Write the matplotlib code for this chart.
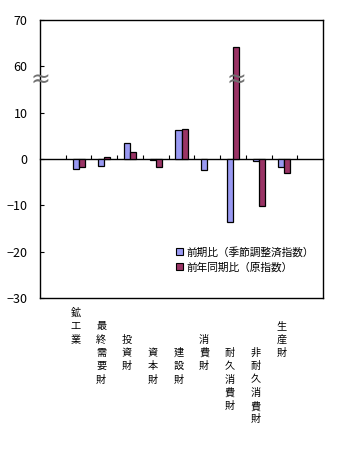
import numpy as np
import matplotlib
matplotlib.use("Agg")
import matplotlib.pyplot as plt
from matplotlib.patches import Patch

plt.rcParams['font.family'] = ['Noto Sans CJK JP', 'DejaVu Sans']

# data (percent)
categories = ['鉱工業', '最終需要財', '投資財', '資本財', '建設財',
              '消費財', '耐久消費財', '非耐久消費財', '生産財']
qoq = [-2.2, -1.5, 3.4, -0.2, 6.2, -2.4, -13.6, -0.5, -1.7]
yoy = [-1.7, 0.4, 1.5, -1.7, 6.4, np.nan, 64.2, -10.2, -3.1]
series_names = ['前期比（季節調整済指数）', '前年同期比（原指数）']
tick_values = [-30, -20, -10, 0, 10, 60, 70]

# layout only: row at which each vertical label starts
label_rows = [0, 1, 2, 3, 3, 2, 3, 3, 1]

BLUE = '#9999f2'
RED = '#9a3465'
GAP = 40  # values above the break are shifted down by this much


def squash(v):
    v = np.asarray(v, dtype=float)
    return np.where(v > 10, v - GAP, v)


fig = plt.figure(figsize=(3.4, 4.5), dpi=100)
ax = fig.add_axes([40 / 340, 152 / 450, 283 / 340, 278 / 450])

n = len(categories)
x = np.arange(1, n + 1)
w = 0.235
ax.bar(x - w / 2, squash(qoq), w, color=BLUE, edgecolor='black', linewidth=0.9)
ax.bar(x + w / 2, squash(yoy), w, color=RED, edgecolor='black', linewidth=0.9)

# one empty slot on each side of the categories
ax.set_xlim(-0.5, n + 1.5)
ax.set_ylim(-30, 30)
ax.set_yticks(squash(tick_values))
ax.set_yticklabels([str(t).replace('-', '−') for t in tick_values])
ax.tick_params(axis='y', direction='in', length=3, pad=9, labelsize=9, width=0.8)
ax.set_xticks([])
for s in ax.spines.values():
    s.set_linewidth(1.0)

# category axis at zero with small upward ticks between categories
sec = ax.secondary_xaxis(0.5)
sec.set_xticks(np.arange(0.5, n + 1, 1.0))
sec.tick_params(direction='out', length=3, labeltop=False, labelbottom=False, width=0.8)
for s in sec.spines.values():
    s.set_linewidth(1.0)

# break marks on the axis and the tall bar
brk = 17
ax.text(-0.5, brk, '≈', fontsize=17, color='#707070', ha='center', va='center',
        clip_on=False, family='DejaVu Sans')
big = int(np.nanargmax(yoy))
ax.text(x[big] + w / 2, brk, '≈', fontsize=17, color='#707070', ha='center',
        va='center', family='DejaVu Sans')

# vertical category labels, one character per line
for i, (lab, row) in enumerate(zip(categories, label_rows)):
    xd = ax.transData.transform((x[i] - 0.12, 0))[0] / 340
    for j, ch in enumerate(lab):
        ypx = 313 + 13.3 * (row + j)
        fig.text(xd, 1 - ypx / 450, ch, fontsize=7.3, ha='center', va='center')

handles = [Patch(facecolor=BLUE, edgecolor='black', linewidth=0.8),
           Patch(facecolor=RED, edgecolor='black', linewidth=0.8)]
ax.legend(handles, series_names, loc='upper left', bbox_to_anchor=(0.48, 0.185),
          frameon=False, fontsize=7.7, handlelength=0.65, handleheight=0.65,
          handletextpad=0.3, labelspacing=0.45, borderpad=0, borderaxespad=0)

fig.savefig('out.png', dpi=100)
